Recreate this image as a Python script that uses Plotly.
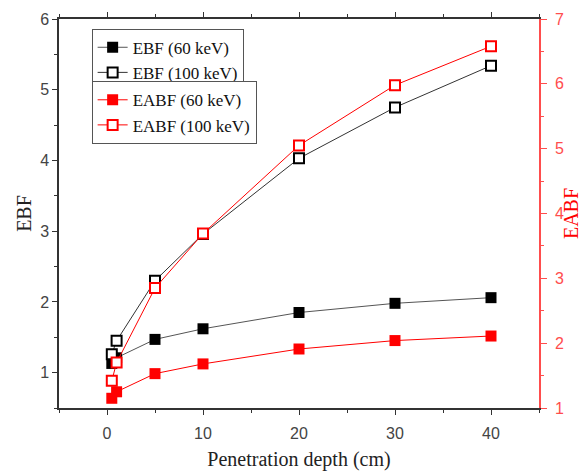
import plotly.graph_objects as go

depth = [0.5, 1, 5, 10, 20, 30, 40]
ebf_60 = [1.13, 1.21, 1.47, 1.62, 1.85, 1.98, 2.06]
ebf_100 = [1.26, 1.45, 2.30, 2.96, 4.03, 4.75, 5.34]
eabf_60 = [1.15, 1.25, 1.53, 1.68, 1.91, 2.04, 2.11]
eabf_100 = [1.42, 1.70, 2.85, 3.69, 5.05, 5.98, 6.58]

serif = "Liberation Serif, Times New Roman, serif"
sans = "Liberation Sans, Arial, sans-serif"
red = "#ff0000"
axred = "#ff4d4d"

fig = go.Figure()
fig.add_trace(go.Scatter(x=depth, y=ebf_60, name="EBF (60 keV)", mode="lines+markers",
                         line=dict(color="#555555", width=1),
                         marker=dict(symbol="square", size=11, color="black"),
                         legend="legend"))
fig.add_trace(go.Scatter(x=depth, y=ebf_100, name="EBF (100 keV)", mode="lines+markers",
                         line=dict(color="#333333", width=1),
                         marker=dict(symbol="square", size=10, color="white",
                                     line=dict(color="black", width=2)),
                         legend="legend"))
fig.add_trace(go.Scatter(x=depth, y=eabf_60, name="EABF (60 keV)", mode="lines+markers",
                         line=dict(color=red, width=1), yaxis="y2",
                         marker=dict(symbol="square", size=11, color=red),
                         legend="legend2"))
fig.add_trace(go.Scatter(x=depth, y=eabf_100, name="EABF (100 keV)", mode="lines+markers",
                         line=dict(color=red, width=1), yaxis="y2",
                         marker=dict(symbol="square", size=10, color="white",
                                     line=dict(color=red, width=2)),
                         legend="legend2"))

legend_common = dict(font=dict(family=serif, size=17, color="#111111"),
                     bgcolor="white", bordercolor="#555555", borderwidth=1,
                     xanchor="left", yanchor="top", tracegroupgap=0,
                     itemsizing="trace")

fig.update_layout(
    width=582, height=471,
    margin=dict(l=59, r=43, t=19, b=63),
    plot_bgcolor="white", paper_bgcolor="white",
    showlegend=True,
    legend=dict(x=0.068, y=0.975, **legend_common),
    legend2=dict(x=0.068, y=0.84, **legend_common),
    xaxis=dict(range=[-5, 45], dtick=10, tick0=0, showgrid=False, zeroline=False,
               automargin=False,
               showline=True, linecolor="#333333", linewidth=1.5, mirror="ticks",
               ticks="outside", ticklen=5, tickwidth=1.2, tickcolor="#333333",
               minor=dict(dtick=5, ticks="outside", ticklen=3, tickcolor="#333333"),
               ticklabelstandoff=5,
               tickfont=dict(family=sans, size=16, color="#444444"),
               title=dict(text="Penetration depth (cm)", font=dict(family=serif, size=20, color="#222222"),
                          standoff=14)),
    yaxis=dict(range=[0.5, 6], dtick=1, tick0=0, showgrid=False, zeroline=False,
               automargin=False,
               showline=True, linecolor="#333333", linewidth=1.5,
               ticks="outside", ticklen=5, tickwidth=1.2, tickcolor="#333333",
               minor=dict(dtick=0.5, ticks="outside", ticklen=3, tickcolor="#333333"),
               tickfont=dict(family=sans, size=16, color="#444444"),
               title=dict(text="EBF", font=dict(family=serif, size=20, color="#222222"),
                          standoff=3)),
    yaxis2=dict(range=[1, 7], dtick=1, tick0=0, overlaying="y", side="right",
                showgrid=False, zeroline=False, anchor="x", automargin=False,
                showline=True, linecolor=axred, linewidth=1.5,
                ticks="outside", ticklen=6, tickwidth=1.2, tickcolor=axred,
                minor=dict(dtick=0.5, ticks="outside", ticklen=3, tickcolor=axred),
                ticklabelstandoff=5,
                tickfont=dict(family=sans, size=16, color=axred),
                title=dict(text="EABF", font=dict(family=serif, size=20, color=red),
                           standoff=20)),
)

fig.write_html("out.html")
